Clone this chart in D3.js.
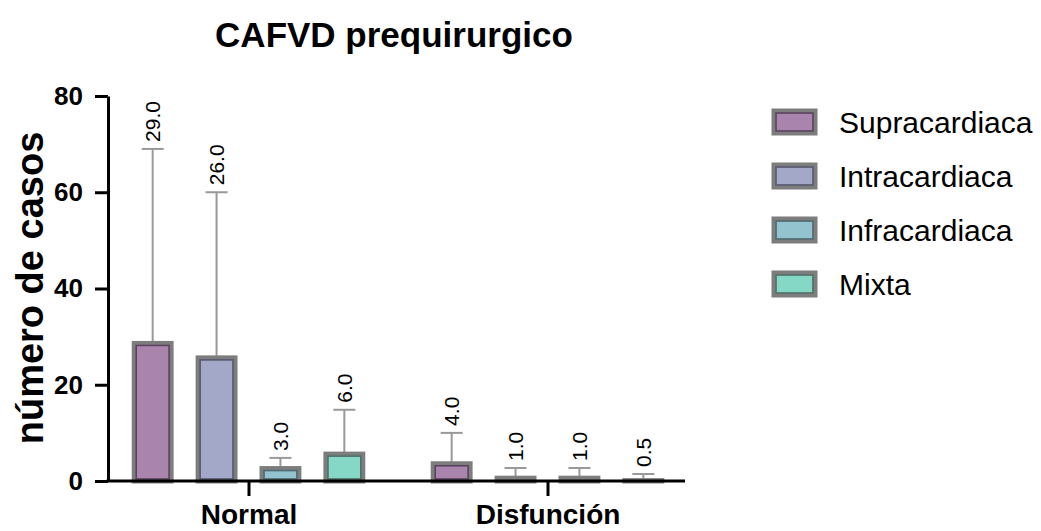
<!DOCTYPE html>
<html>
<head>
<meta charset="utf-8">
<script src="https://cdn.jsdelivr.net/npm/d3@7"></script>
<style>
  body { margin: 0; background: #fff; }
  text { font-family: "Liberation Sans", Arial, sans-serif; }
</style>
</head>
<body>
<div id="chartArea"></div>
<script>
// chart data
let groups = ['Normal', 'Disfunción'];
let series = ['Supracardiaca', 'Intracardiaca', 'Infracardiaca', 'Mixta'];
let normalMeans = [29.0, 26.0, 3.0, 6.0];
let normalSD = [40.0, 34.0, 1.8, 8.8];
let disfMeans = [4.0, 1.0, 1.0, 0.5];
let disfSD = [6.0, 1.7, 1.7, 0.95];
let yTicks = [0, 20, 40, 60, 80];

let fills = ['#a984ad', '#a4a8c8', '#93c3cf', '#86d8c6'];
let inners = ['#5b3f5f', '#555870', '#4f6a70', '#4f7069'];

let width = 1041, height = 531;

let rows = [];
groups.forEach((g, gi) => {
    let means = gi === 0 ? normalMeans : disfMeans;
    let sds = gi === 0 ? normalSD : disfSD;
    series.forEach((s, si) => {
        rows.push({ group: g, series: s, mean: means[si], sd: sds[si], idx: si });
    });
});

let svg = d3.select('#chartArea')
    .append('svg')
        .attr('width', width)
        .attr('height', height);

let axisLeftX = 108, axisRightX = 685;

let x0 = d3.scaleBand()
    .domain(groups)
    .range([99, 697])
    .padding(0);

let x1 = d3.scaleBand()
    .domain(series)
    .range([0, x0.bandwidth()])
    .paddingInner(0.36)
    .paddingOuter(0.52);

let yScale = d3.scaleLinear()
    .domain([0, 80])
    .range([481, 96]);

// title
svg.append('text')
    .attr('x', 394)
    .attr('y', 47)
    .attr('text-anchor', 'middle')
    .style('font-weight', 'bold')
    .style('font-size', '35px')
    .text('CAFVD prequirurgico');

// y axis title
svg.append('text')
    .attr('transform', 'translate(43,288) rotate(-90)')
    .attr('text-anchor', 'middle')
    .style('font-weight', 'bold')
    .style('font-size', '38px')
    .text('número de casos');

// bars
let bars = svg.append('g');
rows.forEach(d => {
    let bx = x0(d.group) + x1(d.series);
    let bw = x1.bandwidth();
    let top = yScale(d.mean);
    let bot = yScale(0);

    // error bar (upper only)
    let cx = bx + bw / 2;
    let et = yScale(d.mean + d.sd);
    bars.append('line')
        .attr('x1', cx).attr('x2', cx)
        .attr('y1', top).attr('y2', et)
        .attr('stroke', '#999').attr('stroke-width', 2);
    bars.append('line')
        .attr('x1', cx - 11).attr('x2', cx + 11)
        .attr('y1', et).attr('y2', et)
        .attr('stroke', '#999').attr('stroke-width', 2);

    bars.append('rect')
        .attr('x', bx + 2).attr('y', top + 2)
        .attr('width', bw - 4).attr('height', Math.max(0, bot - top - 2))
        .attr('fill', fills[d.idx])
        .attr('stroke', '#7d7d7d')
        .attr('stroke-width', 5);
    bars.append('rect')
        .attr('x', bx + 4).attr('y', top + 4)
        .attr('width', bw - 8).attr('height', Math.max(0, bot - top - 6))
        .attr('fill', 'none')
        .attr('stroke', inners[d.idx])
        .attr('stroke-width', 1.5);

    // value label
    svg.append('text')
        .attr('transform', 'translate(' + (cx + 7.5) + ',' + (et - 7) + ') rotate(-90)')
        .style('font-size', '21px')
        .text(d3.format('.1f')(d.mean));
});

// y axis
let yAxis = svg.append('g')
    .attr('transform', 'translate(' + axisLeftX + ',0)')
    .call(d3.axisLeft(yScale).tickValues(yTicks).tickSize(13).tickPadding(12).tickSizeOuter(0));
yAxis.select('.domain').attr('stroke-width', 3);
yAxis.selectAll('.tick line').attr('stroke-width', 3);
yAxis.selectAll('.tick text')
    .style('font-weight', 'bold')
    .style('font-size', '26px')
    .style('font-family', '"Liberation Sans", Arial, sans-serif');

// x axis
let xAxis = svg.append('g')
    .attr('transform', 'translate(0,481)')
    .call(d3.axisBottom(d3.scalePoint().domain(groups).range([x0('Normal') + x0.bandwidth() / 2, x0('Disfunción') + x0.bandwidth() / 2]))
        .tickSize(15).tickPadding(8).tickSizeOuter(0));
xAxis.select('.domain').attr('d', 'M' + (axisLeftX - 1.5) + ',0H' + axisRightX).attr('stroke-width', 3);
xAxis.selectAll('.tick line').attr('stroke-width', 3);
xAxis.selectAll('.tick text')
    .style('font-weight', 'bold')
    .style('font-size', '28px')
    .style('font-family', '"Liberation Sans", Arial, sans-serif');

// legend
let legend = svg.append('g');
series.forEach((s, i) => {
    let ly = 122 + i * 54;
    legend.append('rect')
        .attr('x', 774).attr('y', ly - 11)
        .attr('width', 41).attr('height', 22)
        .attr('fill', fills[i])
        .attr('stroke', '#7d7d7d').attr('stroke-width', 5);
    legend.append('rect')
        .attr('x', 776).attr('y', ly - 9)
        .attr('width', 37).attr('height', 18)
        .attr('fill', 'none')
        .attr('stroke', inners[i]).attr('stroke-width', 1.5);
    legend.append('text')
        .attr('x', 839).attr('y', ly + 11)
        .style('font-size', '30px')
        .text(s);
});
</script>
</body>
</html>
